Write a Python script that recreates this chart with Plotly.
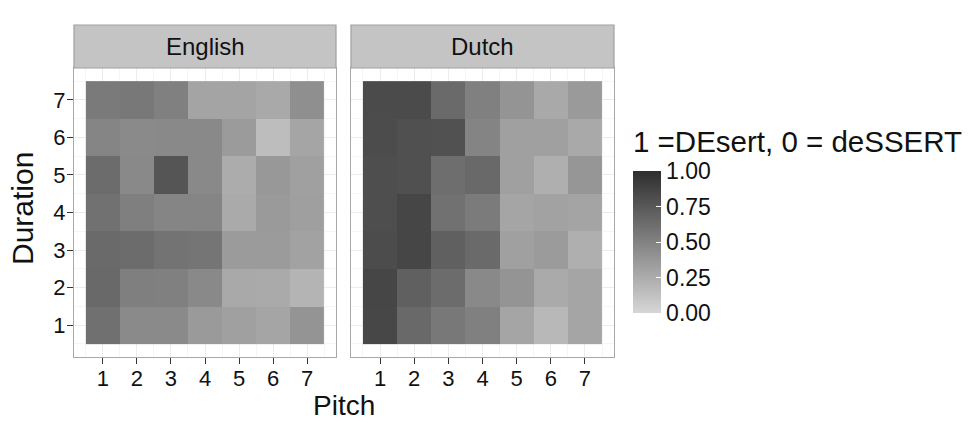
import plotly.graph_objects as go

W, H = 974, 423

pitch = [1, 2, 3, 4, 5, 6, 7]
duration = [1, 2, 3, 4, 5, 6, 7]
panels = ["English", "Dutch"]

# rows = duration 1..7 (bottom to top), columns = pitch 1..7
english = [
    [0.61, 0.45, 0.45, 0.36, 0.32, 0.29, 0.39],  # duration 1
    [0.65, 0.52, 0.51, 0.46, 0.27, 0.26, 0.20],  # 2
    [0.64, 0.63, 0.59, 0.58, 0.35, 0.35, 0.31],  # 3
    [0.60, 0.52, 0.48, 0.48, 0.26, 0.36, 0.33],  # 4
    [0.63, 0.46, 0.77, 0.46, 0.25, 0.37, 0.32],  # 5
    [0.48, 0.45, 0.46, 0.46, 0.35, 0.15, 0.29],  # 6
    [0.55, 0.56, 0.51, 0.30, 0.30, 0.27, 0.42],  # 7
]
dutch = [
    [0.85, 0.65, 0.56, 0.51, 0.29, 0.18, 0.29],  # duration 1
    [0.86, 0.70, 0.63, 0.46, 0.39, 0.26, 0.29],  # 2
    [0.82, 0.86, 0.70, 0.64, 0.32, 0.35, 0.23],  # 3
    [0.81, 0.86, 0.60, 0.54, 0.29, 0.31, 0.30],  # 4
    [0.81, 0.80, 0.62, 0.65, 0.32, 0.23, 0.38],  # 5
    [0.82, 0.80, 0.79, 0.49, 0.32, 0.32, 0.27],  # 6
    [0.83, 0.83, 0.64, 0.51, 0.39, 0.27, 0.36],  # 7
]
cbar_ticks = [0.0, 0.25, 0.5, 0.75, 1.0]
cbar_labels = ["0.00", "0.25", "0.50", "0.75", "1.00"]
legend_title = "1 =DEsert, 0 = deSSERT"

FONT = "Liberation Sans, Arial, sans-serif"

fig = go.Figure()
fig.add_trace(go.Heatmap(x=pitch, y=duration, z=english, coloraxis="coloraxis",
                         xaxis="x", yaxis="y", hoverongaps=False))
fig.add_trace(go.Heatmap(x=pitch, y=duration, z=dutch, coloraxis="coloraxis",
                         xaxis="x2", yaxis="y2", hoverongaps=False))

def px_x(a, b):
    return [a / W, b / W]

def px_y(top, bottom):
    return [(H - bottom) / H, (H - top) / H]

ydom = px_y(68, 357)
axis_common = dict(
    range=[0.15, 7.85], tickvals=[1, 2, 3, 4, 5, 6, 7],
    ticks="outside", ticklen=6, tickwidth=1.2, tickcolor="#333333",
    tickfont=dict(family=FONT, size=22, color="#111111"),
    showgrid=True, gridcolor="#ececec", gridwidth=1,
    minor=dict(showgrid=True, gridcolor="#f5f5f5", gridwidth=0.6, dtick=1, tick0=0.5),
    showline=True, mirror=True, linecolor="#a8a8a8", linewidth=1.2,
    zeroline=False, fixedrange=True, automargin=False,
)

fig.update_layout(
    width=W, height=H,
    margin=dict(l=0, r=0, t=0, b=0),
    paper_bgcolor="white", plot_bgcolor="white",
    font=dict(family=FONT, color="#111111"),
    xaxis=dict(domain=px_x(74, 336), anchor="y", ticklabelstandoff=-5, **axis_common),
    yaxis=dict(domain=ydom, anchor="x", ticklabelstandoff=-3, **axis_common),
    xaxis2=dict(domain=px_x(351, 614), anchor="y2", ticklabelstandoff=-5, **axis_common),
    yaxis2=dict(domain=ydom, anchor="x2", **{**axis_common, "showticklabels": False, "ticks": ""}),
    coloraxis=dict(
        cmin=0, cmax=1,
        colorscale=[[0, "#d6d6d6"], [1, "#2e2e2e"]],
        colorbar=dict(
            x=633 / W, xanchor="left", y=(H - 242) / H, yanchor="middle",
            thickness=28, thicknessmode="pixels", len=142, lenmode="pixels",
            xpad=0, ypad=0, outlinewidth=0,
            tickvals=cbar_ticks, ticktext=cbar_labels,
            ticks="inside", ticklen=5, tickcolor="white", tickwidth=1,
            tickfont=dict(family=FONT, size=23, color="#111111"),
        ),
    ),
)

strip_h = 43 / 289
for i, name in enumerate(panels):
    xr = "x domain" if i == 0 else "x2 domain"
    yr = "y domain" if i == 0 else "y2 domain"
    fig.add_shape(type="rect", xref=xr, yref=yr, x0=0, x1=1, y0=1, y1=1 + strip_h,
                  fillcolor="#c4c4c4", line=dict(color="#a0a0a0", width=1.2), layer="above")
    fig.add_annotation(text=name, xref=xr, yref=yr, x=0.5, y=1 + strip_h / 2,
                       xanchor="center", yanchor="middle",
                       showarrow=False, font=dict(family=FONT, size=24, color="#111111"))

fig.add_annotation(text="Pitch", xref="paper", yref="paper", x=344 / W, y=(H - 405) / H,
                   xanchor="center", yanchor="middle",
                   showarrow=False, font=dict(family=FONT, size=28, color="#111111"))
fig.add_annotation(text="Duration", xref="paper", yref="paper", x=22 / W, y=(H - 209) / H,
                   xanchor="center", yanchor="middle",
                   textangle=-90, showarrow=False, font=dict(family=FONT, size=30, color="#111111"))
fig.add_annotation(text=legend_title, xref="paper", yref="paper", x=631 / W, y=(H - 141) / H,
                   xanchor="left", yanchor="middle", showarrow=False,
                   font=dict(family=FONT, size=29.5, color="#111111"))

fig.write_html("out.html")
